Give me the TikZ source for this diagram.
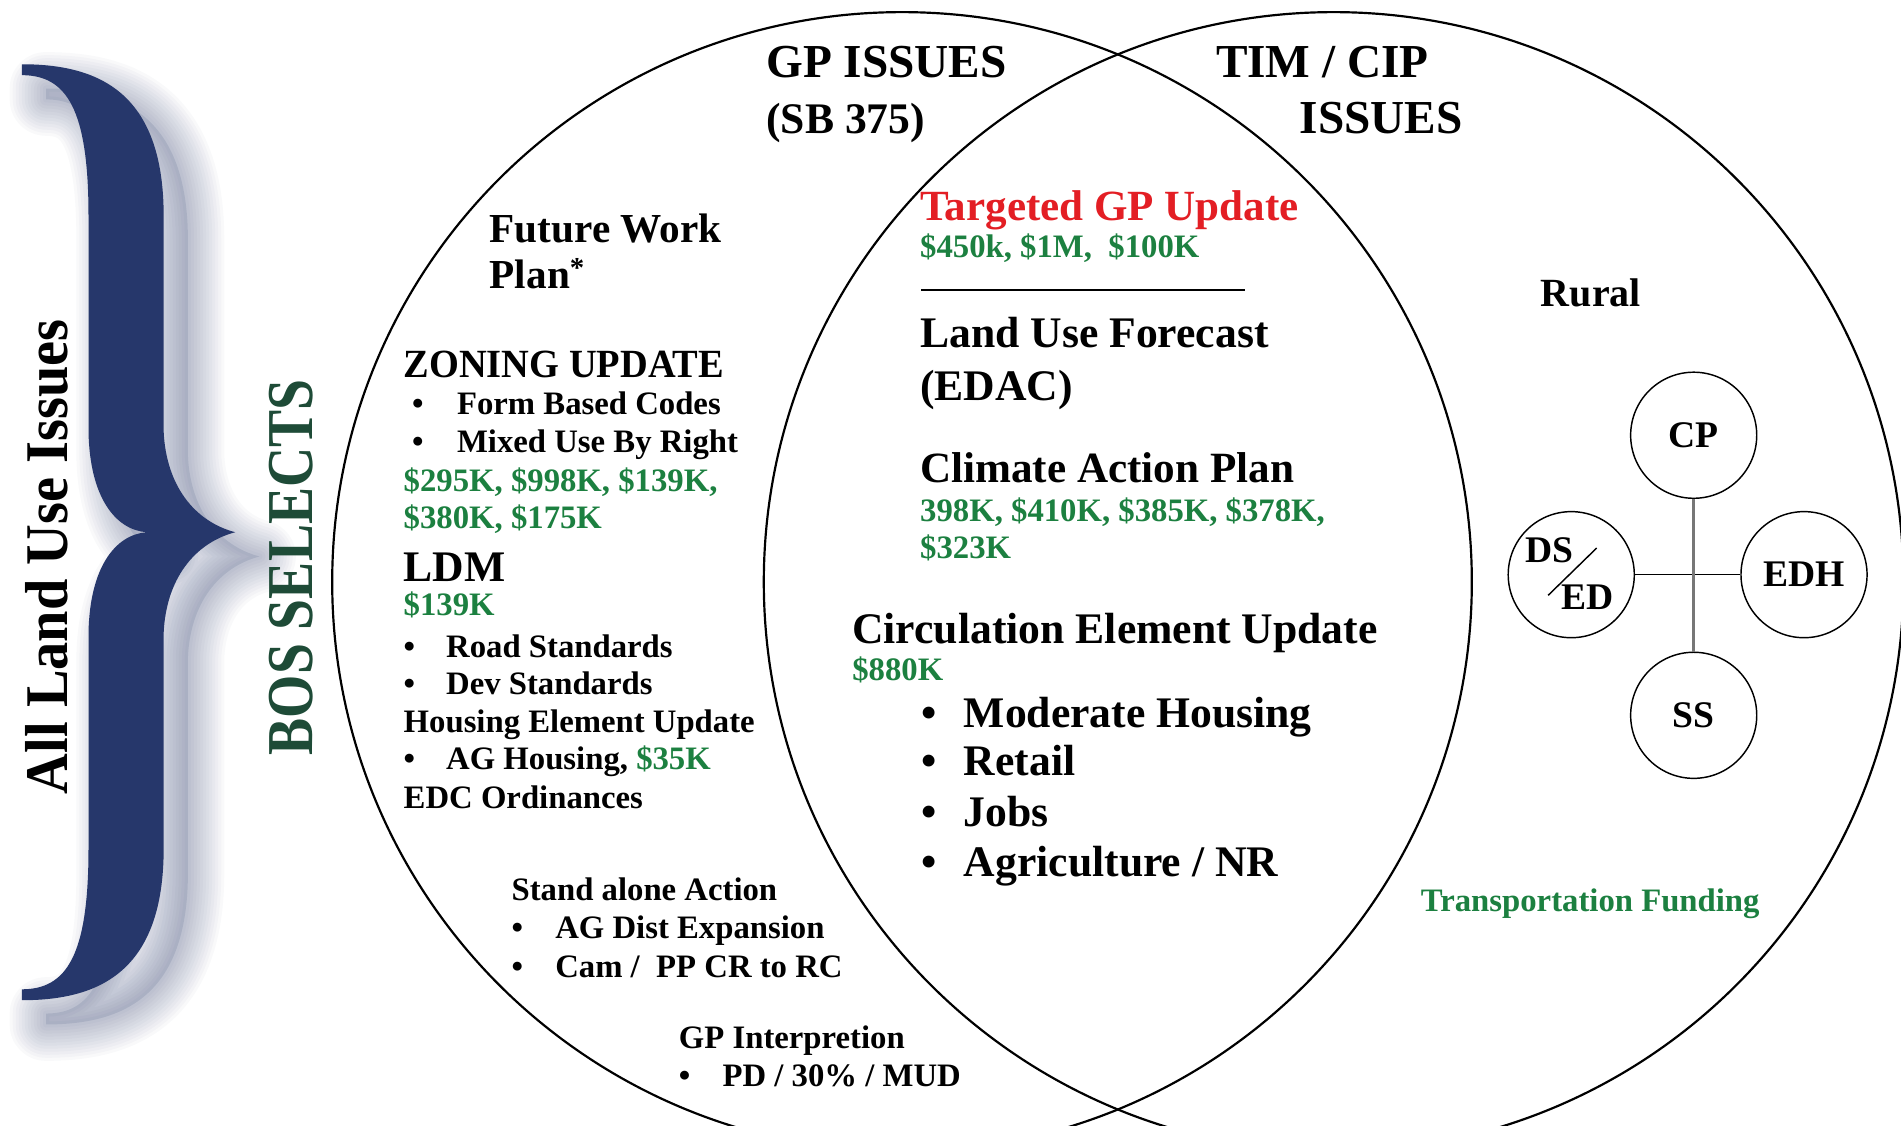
\documentclass[tikz,border=0pt]{standalone}
\usepackage{fontspec}
\setmainfont{Liberation Serif}
\usepackage{graphicx}
\definecolor{navy}{HTML}{26376B}
\definecolor{numgreen}{HTML}{1C8040}
\definecolor{bosgreen}{HTML}{1E4B37}
\definecolor{tred}{HTML}{E31E24}
\definecolor{linegray}{HTML}{777777}
\tikzset{
  txt/.style={anchor=base west, inner sep=0pt, outer sep=0pt},
  sz/.style={font={\bfseries\fontsize{#1}{#1}\selectfont}},
  rg/.style={font={\mdseries\fontsize{#1}{#1}\selectfont}},
  money/.style={text=numgreen},
  sc/.style={circle, draw, line width=1.2pt, minimum size=104pt, inner sep=0pt, font={\bfseries\fontsize{31}{31}\selectfont}},
  venn/.style={line width=1.8pt},
}
\def\bracepath{(18,-53) .. controls (80,-53) and (135,-75) .. (135,-178) -- (135,-356) .. controls (137,-400) and (160,-430) .. (194,-439) .. controls (160,-448) and (137,-478) .. (135,-522) -- (135,-700) .. controls (135,-803) and (80,-825) .. (18,-825) -- (18,-816) .. controls (55,-816) and (73,-788) .. (73,-700) -- (73,-522) .. controls (74,-468) and (95,-441) .. (121,-439) .. controls (95,-437) and (74,-410) .. (73,-356) -- (73,-178) .. controls (73,-90) and (55,-62) .. (18,-62) -- cycle}
\begin{document}
\begin{tikzpicture}[x=1pt,y=1pt]
\useasboundingbox (0,0) rectangle (1568,-928);
\clip (0,0) rectangle (1568,-928);
\fill[white] (0,0) rectangle (1568,-928);

% brace shadow (soft, layered)
\foreach \w in {60,55,...,5}{
  \draw[shift={(20,-20)}, draw=navy, line width=\w pt, line join=round, opacity=0.028] \bracepath;
}
\fill[shift={(20,-20)}, navy, opacity=0.12] \bracepath;
% brace
\fill[navy] \bracepath;

% rotated labels
\node[txt, sz=50, rotate=90] (allland) at (56,-655) {\scalebox{0.93}[1]{All Land Use Issues}};
\node[txt, sz=54, rotate=90, text=bosgreen] (bos) at (258,-623) {\scalebox{0.85}[1]{BOS SELECTS}};

% Venn circles
\draw[venn] (744,-480) circle (470pt);
\draw[venn] (1100,-480) circle (470pt);

% headers
\node[txt, sz=39] (gpi) at (632,-64) {GP ISSUES};
\node[txt, sz=36] (sb) at (632,-110) {(SB 375)};
\node[txt, sz=39] (tim) at (1003,-64) {TIM / CIP};
\node[txt, sz=39] (timi) at (1072,-110) {ISSUES};

% left region
\node[txt, sz=34] (fw1) at (404,-200) {Future Work};
\node[txt, sz=34] (fw2) at (404,-238) {Plan\textsuperscript{*}};
\node[txt, sz=33] (zu) at (333,-311) {\scalebox{0.96}[1]{ZONING UPDATE}};
\node[txt, sz=27] (zub1) at (340,-342) {\textbullet};
\node[txt, sz=27] (zut1) at (377,-342) {Form Based Codes};
\node[txt, sz=27] (zub2) at (340,-373) {\textbullet};
\node[txt, sz=27] (zut2) at (377,-373) {Mixed Use By Right};
\node[txt, sz=27, money] (zum1) at (333,-405) {\$295K, \$998K, \$139K,};
\node[txt, sz=27, money] (zum2) at (333,-436) {\$380K, \$175K};
\node[txt, sz=36] (ldm) at (333,-480) {LDM};
\node[txt, sz=27, money] (ldmm) at (333,-508) {\$139K};
\node[txt, sz=27] (ldb1) at (333,-542) {\textbullet};
\node[txt, sz=27] (ldt1) at (368,-542) {Road Standards};
\node[txt, sz=27] (ldb2) at (333,-573) {\textbullet};
\node[txt, sz=27] (ldt2) at (368,-573) {Dev Standards};
\node[txt, sz=27] (heu) at (333,-604) {Housing Element Update};
\node[txt, sz=27] (heb) at (333,-635) {\textbullet};
\node[txt, sz=27] (het) at (368,-635) {AG Housing, \textcolor{numgreen}{\$35K}};
\node[txt, sz=27] (edc) at (333,-667) {EDC Ordinances};
\node[txt, sz=27] (saa) at (422,-743) {Stand alone Action};
\node[txt, sz=27] (sab1) at (422,-774) {\textbullet};
\node[txt, sz=27] (sat1) at (458,-774) {AG Dist Expansion};
\node[txt, sz=27] (sab2) at (422,-806) {\textbullet};
\node[txt, sz=27] (sat2) at (458,-806) {Cam /\ \ PP CR to RC};
\node[txt, sz=27] (gpint) at (560,-865) {GP Interpretion};
\node[txt, sz=27] (gpb) at (560,-896) {\textbullet};
\node[txt, sz=27] (gpt) at (596,-896) {PD / 30\% / MUD};

% middle region
\node[txt, sz=35.5, text=tred] (tgp) at (759,-182) {Targeted GP Update};
\node[txt, sz=27, money] (tgpm) at (759,-212) {\$450k, \$1M,\ \ \$100K};
\coordinate (rl1) at (760,-239);
\coordinate (rl2) at (1027,-239);
\draw[line width=1.5pt] (rl1) -- (rl2);
\node[txt, sz=36] (luf1) at (759,-287) {Land Use Forecast};
\node[txt, sz=36] (luf2) at (759,-330) {(EDAC)};
\node[txt, sz=35.6] (cap) at (759,-398) {Climate Action Plan};
\node[txt, sz=27, money] (capm1) at (759,-430) {398K, \$410K, \$385K, \$378K,};
\node[txt, sz=27, money] (capm2) at (759,-461) {\$323K};
\node[txt, sz=36] (ceu) at (703,-531) {Circulation Element Update};
\node[txt, sz=27, money] (ceum) at (703,-561) {\$880K};
\node[txt, sz=36] (cb1) at (760,-600) {\textbullet};
\node[txt, sz=36] (ct1) at (795,-600) {Moderate Housing};
\node[txt, sz=36] (cb2) at (760,-640) {\textbullet};
\node[txt, sz=36] (ct2) at (795,-640) {Retail};
\node[txt, sz=36] (cb3) at (760,-682) {\textbullet};
\node[txt, sz=36] (ct3) at (795,-682) {Jobs};
\node[txt, sz=36] (cb4) at (760,-723) {\textbullet};
\node[txt, sz=36] (ct4) at (795,-723) {Agriculture / NR};

% right region
\node[txt, sz=33] (rural) at (1271,-253) {Rural};
\node[txt, sz=27, money] (tf) at (1172,-752) {Transportation Funding};

\node[sc] (cp) at (1397,-359) {CP};
\node[sc] (edh) at (1488,-474) {EDH};
\node[sc] (ss) at (1397,-590) {SS};
\node[sc] (dsed) at (1296,-474) {};
\node[txt, sz=31] (dslab) at (1258,-464) {DS};
\node[txt, sz=31] (edlab) at (1288,-503) {ED};
\coordinate (sl1) at (1277,-491);
\coordinate (sl2) at (1317,-452);
\draw[line width=1.2pt] (sl1) -- (sl2);

\draw[line width=1.2pt] (dsed.east) -- (edh.west);
\draw[line width=2.2pt, draw=linegray] (cp.south) -- (ss.north);
\end{tikzpicture}
\end{document}
